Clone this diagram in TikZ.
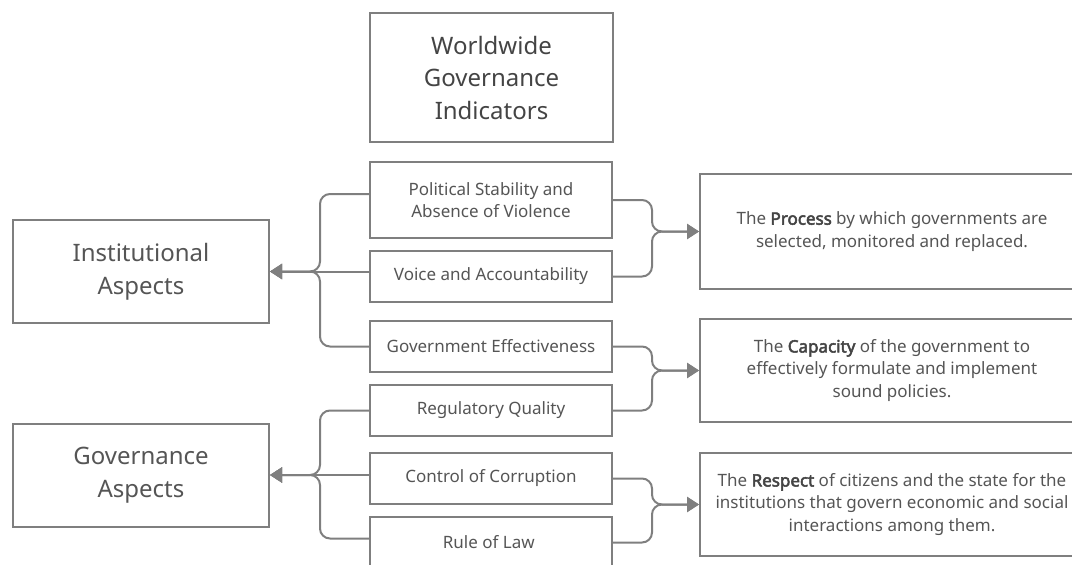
\documentclass[tikz,border=0pt]{standalone}
\usepackage{fontspec}
\setmainfont{Noto Sans}[BoldFont={Noto Sans}, BoldFeatures={FakeBold=3}]
\usetikzlibrary{arrows.meta}

\definecolor{linegray}{HTML}{7F7F7F}
\definecolor{textgray}{HTML}{555555}
\definecolor{titlegray}{HTML}{444444}
\newcommand{\keyword}[1]{\textcolor{titlegray}{\textbf{#1}}}

\begin{document}
\begin{tikzpicture}[x=1pt, y=-1pt,
    box/.style={draw=linegray, line width=2pt, align=center, inner sep=0pt, text=textgray},
    topbox/.style={box, minimum width=243pt, minimum height=129pt, text=titlegray, font=\fontsize{24}{32.5}\selectfont},
    aspect/.style={box, minimum width=256pt, minimum height=103pt, font=\fontsize{24}{33}\selectfont},
    indicator/.style={box, minimum width=242pt, minimum height=51pt, font=\fontsize{17}{22.5}\selectfont},
    meaning/.style={box, minimum width=384pt, minimum height=103pt, font=\fontsize{17}{22.5}\selectfont},
    link/.style={draw=linegray, line width=2pt, rounded corners=10pt, -{Triangle[length=12pt, width=15pt]}}
]
    % Page frame
    \useasboundingbox (0,0) rectangle (1072,565);
    % Title
    \node[topbox] (wgi) at (491.5,77.5) {Worldwide\\Governance\\Indicators};
    % Aspects on the left
    \node[aspect] (ia) at (141,271.5) {Institutional\\Aspects};
    \node[aspect] (ga) at (141,475) {Governance\\Aspects};
    % The six indicators
    \node[indicator, minimum height=76pt] (pol) at (491,200) {Political Stability and\\Absence of Violence};
    \foreach \n/\y/\t in {
        vo/276.5/Voice and Accountability,
        ge/346.5/Government Effectiveness,
        rq/410.5/Regulatory Quality,
        cc/478.5/Control of Corruption,
        rl/542.5/Rule of Law
    } {
        \node[indicator] (\n) at (491,\y) {\t};
    }
    % Meanings on the right
    \node[meaning, minimum height=115pt] (pr) at (892,231.5) {The \keyword{Process} by which governments are\\selected, monitored and replaced.};
    \node[meaning] (ca) at (892,370.5) {The \keyword{Capacity} of the government to\\effectively formulate and implement\\sound policies.};
    \node[meaning] (re) at (892,504.5) {The \keyword{Respect} of citizens and the state for the\\institutions that govern economic and social\\interactions among them.};
    % Split points
    \coordinate (lsplit) at (320,0);
    \coordinate (rsplit) at (652,0);
    % Indicators to aspects
    \draw[link] ([yshift=6pt]pol.west) -- ([yshift=6pt]pol.west -| lsplit) |- (ia.east);
    \draw[link] (vo.west |- ia.east) -- (ia.east);
    \draw[link] (ge.west) -- (ge.west -| lsplit) |- (ia.east);
    \draw[link] (rq.west) -- (rq.west -| lsplit) |- (ga.east);
    \draw[link] (cc.west |- ga.east) -- (ga.east);
    \draw[link] ([yshift=4pt]rl.west) -- ([yshift=4pt]rl.west -| lsplit) |- (ga.east);
    % Indicators to meanings
    \foreach \a/\b/\m in {pol/vo/pr, ge/rq/ca, cc/rl/re} {
        \draw[link] (\a.east) -- (\a.east -| rsplit) |- (\m.west);
        \draw[link] (\b.east) -- (\b.east -| rsplit) |- (\m.west);
    }
\end{tikzpicture}
\end{document}
